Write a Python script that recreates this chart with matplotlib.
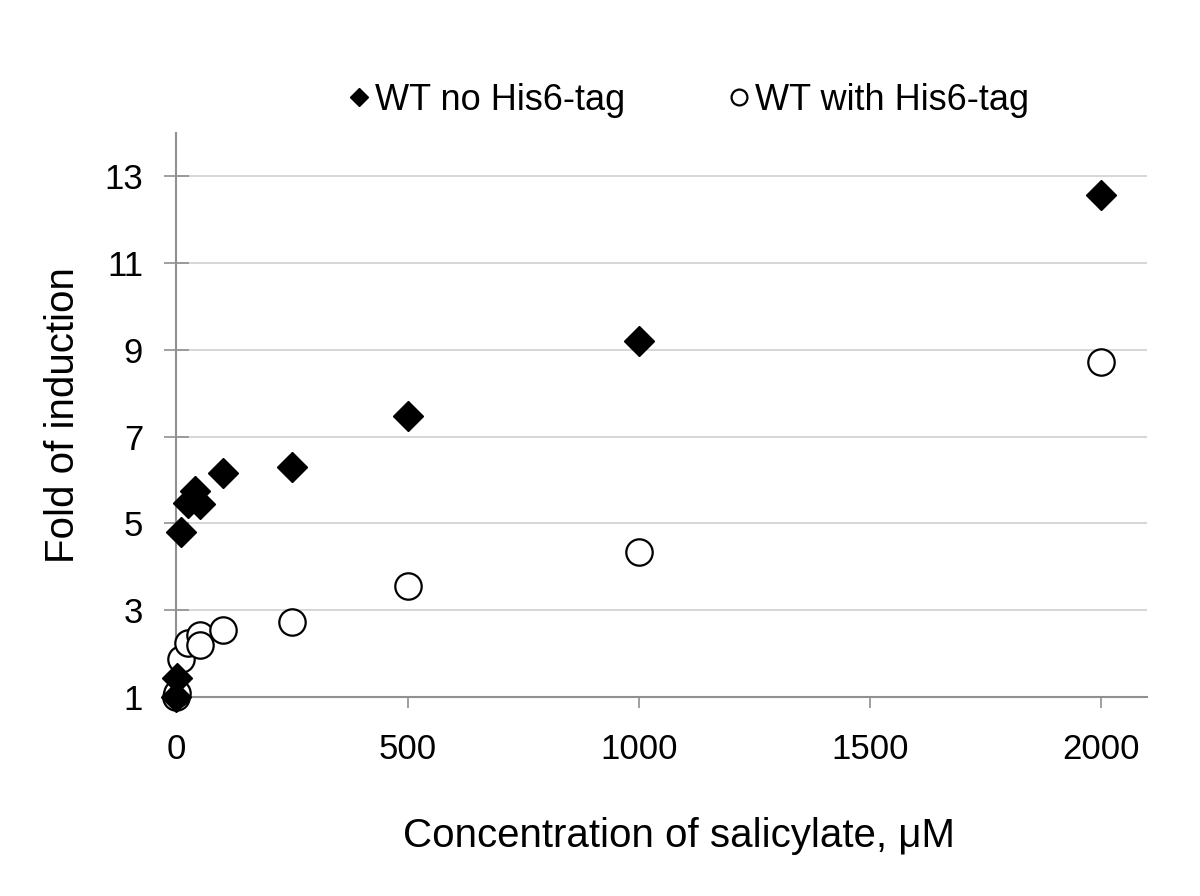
import numpy as np
import matplotlib.pyplot as plt

plt.rcParams['font.family'] = ['Liberation Sans', 'DejaVu Sans']

# WT no His6-tag
x_notag = [0, 1, 10, 25, 40, 50, 100, 250, 500, 1000, 2000]
y_notag = [1.0, 1.45, 4.8, 5.48, 5.75, 5.45, 6.15, 6.3, 7.48, 9.2, 12.57]

# WT with His6-tag
x_tag = [0, 1, 10, 25, 50, 50, 100, 250, 500, 1000, 2000]
y_tag = [1.0, 1.1, 1.88, 2.24, 2.43, 2.2, 2.55, 2.73, 3.56, 4.35, 8.72]

xticks = [0, 500, 1000, 1500, 2000]
yticks = [1, 3, 5, 7, 9, 11, 13]

fig = plt.figure(figsize=(12, 8.96), dpi=100)
ax = fig.add_axes([0.147, 0.222, 0.809, 0.63])

ax.plot(x_notag, y_notag, linestyle='none', marker='D', markersize=15,
        color='black', clip_on=False, zorder=4, label='WT no His6-tag')
ax.plot(x_tag, y_tag, linestyle='none', marker='o', markersize=19,
        markerfacecolor='white', markeredgecolor='black', markeredgewidth=1.6,
        clip_on=False, zorder=3, label='WT with His6-tag')

ax.set_xlim(0, 2100)
ax.set_ylim(1, 14)
ax.set_xticks(xticks)
ax.set_yticks(yticks)
ax.yaxis.grid(True, color='#d0d0d0', linewidth=1.2)
ax.set_axisbelow(True)

for s in ['top', 'right']:
    ax.spines[s].set_visible(False)
for s in ['left', 'bottom']:
    ax.spines[s].set_color('#909090')
    ax.spines[s].set_linewidth(1.5)

ax.tick_params(axis='x', direction='out', length=8, width=1.2, color='#909090',
               pad=18, labelsize=25)
ax.tick_params(axis='y', direction='inout', length=18, width=1.2, color='#909090',
               pad=15, labelsize=25)

ax.set_xlabel('Concentration of salicylate, μM', fontsize=29)
ax.xaxis.set_label_coords(0.518, -0.213)
ax.set_ylabel('Fold of induction', fontsize=29)
ax.yaxis.set_label_coords(-0.097, 0.5)

fig.legend(loc='center', bbox_to_anchor=(0.574, 0.888), ncol=2, frameon=False,
           fontsize=26, markerscale=0.6, handlelength=0.6, handletextpad=0.15,
           columnspacing=2.85)

fig.savefig('out.png', dpi=100)
